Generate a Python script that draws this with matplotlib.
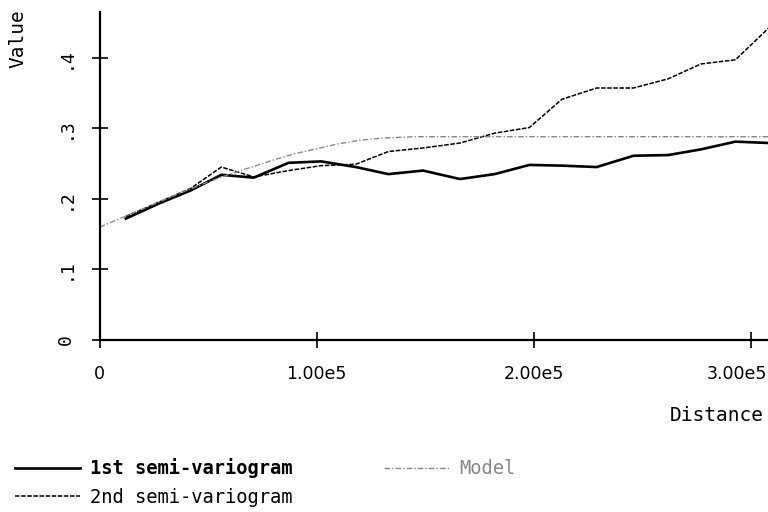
import matplotlib
matplotlib.use('Agg')
import matplotlib.pyplot as plt
from matplotlib.ticker import FixedLocator
from matplotlib.transforms import ScaledTranslation

# lag distances (in units of 1e5)
lags = [0.12, 0.27, 0.42, 0.56, 0.71, 0.87, 1.02, 1.18, 1.33, 1.49,
        1.66, 1.82, 1.98, 2.13, 2.29, 2.46, 2.62, 2.77, 2.93, 3.09]
semivar_1 = [0.172, 0.193, 0.212, 0.234, 0.230, 0.251, 0.253, 0.245, 0.235, 0.240,
             0.228, 0.235, 0.248, 0.247, 0.245, 0.261, 0.262, 0.270, 0.281, 0.279]
semivar_2 = [0.175, 0.195, 0.215, 0.245, 0.231, 0.240, 0.247, 0.249, 0.267, 0.272,
             0.279, 0.293, 0.301, 0.341, 0.357, 0.357, 0.370, 0.391, 0.397, 0.444]

# fitted model
model_x = [0.0, 0.1, 0.2, 0.3, 0.4, 0.5, 0.6, 0.7, 0.8, 0.9,
           1.0, 1.1, 1.2, 1.3, 1.45, 3.10]
model_y = [0.160, 0.173, 0.186, 0.199, 0.212, 0.224, 0.235, 0.245, 0.255, 0.264,
           0.271, 0.278, 0.283, 0.286, 0.288, 0.288]

x_ticks = [0, 1e5, 2e5, 3e5]
x_tick_labels = ['0', '1.00e5', '2.00e5', '3.00e5']
y_ticks = [0, 0.1, 0.2, 0.3, 0.4]
y_tick_labels = ['0', '.1', '.2', '.3', '.4']

MONO = 'DejaVu Sans Mono'

fig = plt.figure(figsize=(7.68, 5.12), dpi=100)
ax = fig.add_axes([0.130, 0.336, 0.870, 0.641])

scale = 1e5
ax.plot([v * scale for v in lags], semivar_1, color='black', lw=1.9,
        label='1st semi-variogram')
ax.plot([v * scale for v in lags], semivar_2, color='black', lw=1.1,
        dashes=(3, 1), label='2nd semi-variogram')
ax.plot([v * scale for v in model_x], model_y, color='#888888', lw=1.0,
        dashes=(4, 1.5, 1, 1.5), label='Model')

ax.set_xlim(0, 3.08e5)
ax.set_ylim(0, 0.465)

for s in ['top', 'right']:
    ax.spines[s].set_visible(False)
for s in ['left', 'bottom']:
    ax.spines[s].set_linewidth(1.6)

ax.xaxis.set_major_locator(FixedLocator(x_ticks))
ax.set_xticklabels(x_tick_labels, fontsize=12.5, family='DejaVu Sans')
ax.yaxis.set_major_locator(FixedLocator(y_ticks))
ax.set_yticklabels(y_tick_labels, fontsize=13, family=MONO, rotation=90,
                   va='center')
ax.tick_params(axis='both', direction='inout', length=12, width=1.2, pad=12)

# keep the last x label inside the figure
last = ax.get_xticklabels()[-1]
last.set_transform(last.get_transform() + ScaledTranslation(-0.14, 0, fig.dpi_scale_trans))

fig.text(0.024, 0.925, 'Value', rotation=90, fontsize=14, family=MONO,
         ha='center', va='center')
fig.text(0.995, 0.188, 'Distance', fontsize=14, family=MONO,
         ha='right', va='center')

leg = ax.legend(loc='upper left', bbox_to_anchor=(-0.003, 0.138),
                bbox_transform=fig.transFigure, ncol=2, frameon=False,
                handlelength=3.5, handletextpad=0.5, columnspacing=4.9,
                labelspacing=0.5, prop={'family': MONO, 'size': 13.5})
texts = leg.get_texts()
texts[0].set_fontweight('bold')
texts[2].set_color('#888888')

fig.savefig('out.png', dpi=100)
